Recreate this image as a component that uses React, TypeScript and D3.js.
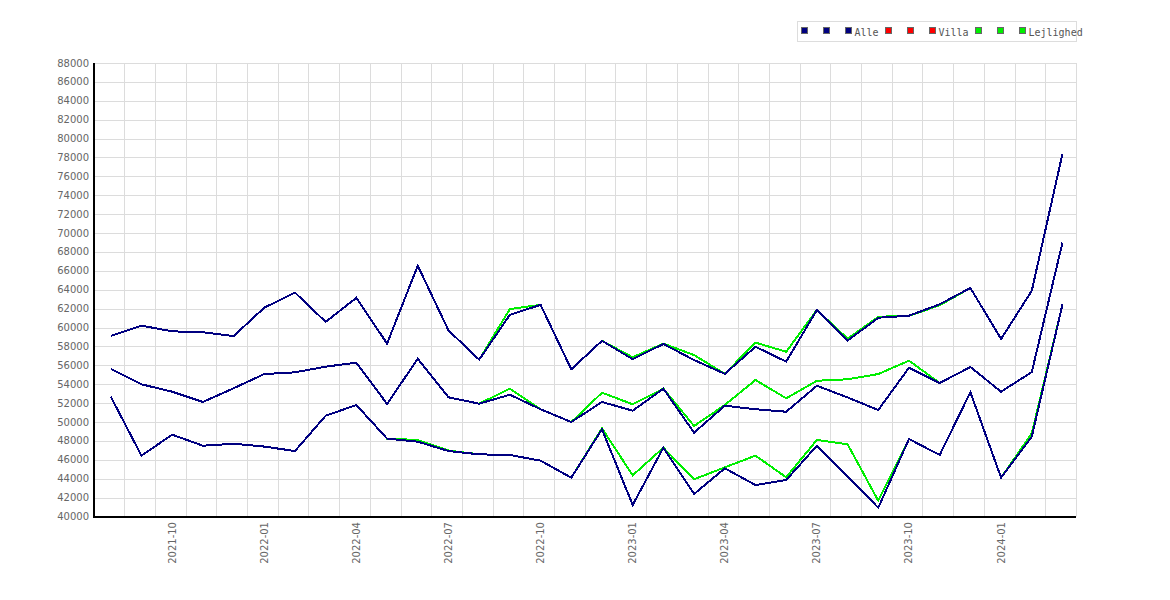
import { useEffect, useRef } from "react"
import * as d3 from "d3"

// months 2021-08 .. 2024-03
const months = [
  "2021-08", "2021-09", "2021-10", "2021-11", "2021-12",
  "2022-01", "2022-02", "2022-03", "2022-04", "2022-05", "2022-06",
  "2022-07", "2022-08", "2022-09", "2022-10", "2022-11", "2022-12",
  "2023-01", "2023-02", "2023-03", "2023-04", "2023-05", "2023-06",
  "2023-07", "2023-08", "2023-09", "2023-10", "2023-11", "2023-12",
  "2024-01", "2024-02", "2024-03",
]

const tickLabels = ["2021-10", "2022-01", "2022-04", "2022-07", "2022-10", "2023-01", "2023-04", "2023-07", "2023-10", "2024-01"]

const yTicks = d3.range(40000, 88001, 2000)

// Alle
const alleHigh = [
  59100, 60200, 59600, 59500, 59100, 62100, 63700, 60600, 63150, 58300, 66550,
  59700, 56600, 61350, 62400, 55580, 58600, 56650, 58260, 56560, 55100, 57970,
  56390, 61860, 58610, 61040, 61250, 62460, 64190, 58790, 63900, 78400,
]
const alleMid = [
  55610, 53990, 53210, 52120, 53570, 55080, 55260, 55860, 56280, 51910, 56700,
  52620, 51940, 52890, 51350, 50000, 52120, 51200, 53530, 48870, 51730, 51350,
  51090, 53840, 52600, 51270, 55750, 54130, 55820, 53210, 55290, 69000,
]
const alleLow = [
  52680, 46440, 48660, 47490, 47700, 47400, 46930, 50670, 51800, 48240, 47920,
  46930, 46580, 46510, 45910, 44110, 49230, 41220, 47280, 42380, 45100, 43330,
  43860, 47490, 44210, 40930, 48200, 46510, 53150, 44110, 48450, 62450,
]

// Villa (no values shown in the chart)
const villaHigh: number[] = []
const villaMid: number[] = []
const villaLow: number[] = []

// Lejlighed
const lejlighedHigh = [
  59100, 60200, 59600, 59500, 59100, 62100, 63700, 60600, 63150, 58300, 66550,
  59700, 56600, 61960, 62400, 55580, 58600, 56850, 58300, 57090, 55100, 58400,
  57440, 61860, 58820, 61140, 61250, 62350, 64190, 58790, 63900, 78400,
]
const lejlighedMid = [
  55610, 53990, 53210, 52120, 53570, 55080, 55260, 55860, 56280, 51910, 56700,
  52620, 51940, 53530, 51350, 50000, 53100, 51880, 53530, 49580, 51800, 54450,
  52510, 54370, 54520, 55080, 56490, 54130, 55820, 53210, 55290, 69000,
]
const lejlighedLow = [
  52680, 46440, 48660, 47490, 47700, 47400, 46930, 50670, 51800, 48240, 48100,
  46980, 46580, 46510, 45910, 44110, 49330, 44360, 47280, 43940, 45200, 46440,
  44150, 48100, 47640, 41670, 48200, 46510, 53150, 44110, 48800, 62450,
]

const legendLabels = ["", "", "Alle", "", "", "Villa", "", "", "Lejlighed"]

export default function App() {
  const svgRef = useRef<SVGSVGElement>(null)

  useEffect(() => {
    if (!svgRef.current) return
    const svg = d3.select(svgRef.current)
    svg.selectAll("*").remove()

    const left = 94.5
    const right = 1076
    const top = 63
    const bottom = 516.5

    const x = d3.scaleLinear().domain([-0.53, 31.44]).range([left, right])
    const y = d3.scaleLinear().domain([40000, 88000]).range([bottom, top])

    const grid = svg.append("g").attr("stroke", "#dcdcdc").attr("stroke-width", 1)

    // horizontal grid
    grid
      .selectAll("line.h")
      .data(yTicks)
      .enter()
      .append("line")
      .attr("x1", left)
      .attr("x2", right)
      .attr("y1", (d) => Math.round(y(d)) + 0.5)
      .attr("y2", (d) => Math.round(y(d)) + 0.5)

    // vertical grid, between months
    grid
      .selectAll("line.v")
      .data(d3.range(0, months.length - 1))
      .enter()
      .append("line")
      .attr("x1", (d) => Math.round(x(d + 0.44)) + 0.5)
      .attr("x2", (d) => Math.round(x(d + 0.44)) + 0.5)
      .attr("y1", top)
      .attr("y2", bottom)

    grid.append("line").attr("x1", right + 0.5).attr("x2", right + 0.5).attr("y1", top).attr("y2", bottom)

    // lines
    const line = d3
      .line<number>()
      .x((_, i) => x(i))
      .y((d) => y(d))

    const series = [
      { data: lejlighedHigh, color: "#00ee00" },
      { data: lejlighedMid, color: "#00ee00" },
      { data: lejlighedLow, color: "#00ee00" },
      { data: villaHigh, color: "#ff0000" },
      { data: villaMid, color: "#ff0000" },
      { data: villaLow, color: "#ff0000" },
      { data: alleHigh, color: "#000080" },
      { data: alleMid, color: "#000080" },
      { data: alleLow, color: "#000080" },
    ]

    series.forEach((s) => {
      if (s.data.length === 0) return
      svg
        .append("path")
        .datum(s.data)
        .attr("fill", "none")
        .attr("stroke", s.color)
        .attr("stroke-width", 2)
        .attr("stroke-linejoin", "miter")
        .attr("shape-rendering", "crispEdges")
        .attr("d", line)
    })

    // axes
    svg.append("line").attr("x1", 94).attr("x2", 94).attr("y1", top).attr("y2", bottom + 1).attr("stroke", "#000").attr("stroke-width", 2)
    svg.append("line").attr("x1", 93).attr("x2", right).attr("y1", 517).attr("y2", 517).attr("stroke", "#000").attr("stroke-width", 2)

    svg
      .append("g")
      .selectAll("text")
      .data(yTicks)
      .enter()
      .append("text")
      .attr("x", 89)
      .attr("y", (d) => y(d))
      .attr("text-anchor", "end")
      .attr("dominant-baseline", "central")
      .attr("fill", "#666")
      .style("font-family", "DejaVu Sans")
      .style("font-size", "10px")
      .text((d) => d)

    svg
      .append("g")
      .selectAll("text")
      .data(tickLabels)
      .enter()
      .append("text")
      .attr("transform", (d) => `translate(${x(months.indexOf(d))},522) rotate(-90)`)
      .attr("text-anchor", "end")
      .attr("dominant-baseline", "central")
      .attr("fill", "#666")
      .style("font-family", "DejaVu Sans")
      .style("font-size", "10px")
      .text((d) => d)

    // legend
    const legend = svg.append("g")
    legend.append("rect").attr("x", 797.5).attr("y", 21.5).attr("width", 279).attr("height", 20).attr("fill", "#fff").attr("stroke", "#ddd")

    const legendColors = ["#000080", "#000080", "#000080", "#ff0000", "#ff0000", "#ff0000", "#00ee00", "#00ee00", "#00ee00"]
    let cx = 804
    legendLabels.forEach((label, i) => {
      legend
        .append("rect")
        .attr("x", Math.round(cx - 3) + 0.5)
        .attr("y", 27.5)
        .attr("width", 6)
        .attr("height", 6)
        .attr("fill", legendColors[i])
        .attr("stroke", "#666")
      legend
        .append("text")
        .attr("x", cx + 6.5)
        .attr("y", 35.5)
        .attr("fill", "#555")
        .style("font-family", "DejaVu Sans Mono")
        .style("font-size", "10px")
        .text(label)
      cx += 16 + 6 * Math.max(label.length, 1)
    })
  }, [])

  return (
    <div style={{ position: "absolute", left: 0, top: 0, width: 1170, height: 600, background: "#fff" }}>
      <svg ref={svgRef} width={1170} height={600} style={{ display: "block" }}></svg>
    </div>
  )
}
